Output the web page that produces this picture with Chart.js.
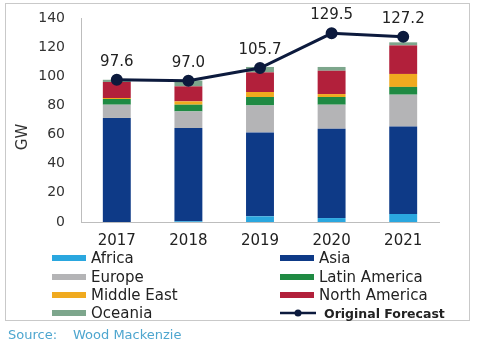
<!DOCTYPE html>
<html>
<head>
<meta charset="utf-8">
<script src="https://cdn.jsdelivr.net/npm/chart.js@4/dist/chart.umd.min.js"></script>
<style>
  html, body { margin: 0; padding: 0; background: #ffffff; }
  #wrap { position: relative; width: 479px; height: 346px; overflow: hidden; font-family: "DejaVu Sans", sans-serif; }
  #frame { position: absolute; left: 5px; top: 3px; width: 465px; height: 318px; border: 1px solid #c9c9c9; box-sizing: border-box; }
  canvas { position: absolute; left: 0; top: 0; }
  #ytitle { position: absolute; left: 22px; top: 137px; transform: translate(-50%, -50%) rotate(-90deg); font-size: 15px; color: #333; white-space: nowrap; }
  .lg { position: absolute; display: flex; align-items: center; white-space: nowrap; font-size: 15px; color: #222; height: 18px; }
  .sw { width: 34px; height: 6px; margin-right: 5px; }
  .lg.bold { font-size: 12.5px; font-weight: bold; color: #222; }
  #source { position: absolute; left: 8px; top: 327px; font-size: 13px; color: #4ea6cf; white-space: nowrap; }
  #source span { position: absolute; left: 65px; }
</style>
</head>
<body>
<div id="wrap">
  <div id="frame"></div>
  <canvas id="c" width="479" height="346"></canvas>
  <div id="ytitle">GW</div>
  <div id="legend"></div>
  <div id="source">Source:<span>Wood Mackenzie</span></div>
</div>
<script>
// ---- data ----
const years = ["2017", "2018", "2019", "2020", "2021"];
const seriesNames = ["Africa", "Asia", "Europe", "Latin America", "Middle East", "North America", "Oceania"];
const africa       = [0.0, 0.5, 3.9, 2.7, 5.5];
const asia         = [71.4, 64.0, 57.6, 61.3, 60.1];
const europe       = [9.1, 11.4, 18.5, 16.5, 21.8];
const latinAmerica = [3.9, 4.6, 5.8, 5.3, 5.3];
const middleEast   = [0.7, 2.3, 3.4, 2.0, 8.9];
const northAmerica = [11.0, 10.3, 13.5, 16.0, 19.6];
const oceania      = [1.5, 4.0, 3.7, 2.6, 2.1];
const lineName = "Original Forecast";
const originalForecast = [97.6, 97.0, 105.7, 129.5, 127.2];
const yTicks = [0, 20, 40, 60, 80, 100, 120, 140];

// ---- style ----
const seriesColors = ["#2aa7df", "#0e3a87", "#b4b4b6", "#1f8a43", "#f0aa1f", "#b2203b", "#7da68c"];
const lineColor = "#0c1a3d";

const seriesValues = [africa, asia, europe, latinAmerica, middleEast, northAmerica, oceania];

const datasets = seriesNames.map((n, i) => ({
  type: 'bar',
  label: n,
  data: seriesValues[i],
  backgroundColor: seriesColors[i],
  borderWidth: 0,
  stack: 'regions',
  order: 1,
  categoryPercentage: 1.0,
  barPercentage: 0.39
}));
datasets.push({
  type: 'line',
  label: lineName,
  data: originalForecast,
  borderColor: lineColor,
  backgroundColor: lineColor,
  borderWidth: 3,
  pointRadius: 4.5,
  pointHoverRadius: 4.5,
  pointBackgroundColor: lineColor,
  pointBorderColor: lineColor,
  stack: 'forecast',
  order: 0,
  tension: 0
});

const labelPlugin = {
  id: 'lineLabels',
  afterDatasetsDraw(chart) {
    const idx = chart.data.datasets.length - 1;
    const meta = chart.getDatasetMeta(idx);
    const ctx = chart.ctx;
    ctx.save();
    ctx.font = '15px "DejaVu Sans", sans-serif';
    ctx.fillStyle = '#222';
    ctx.textAlign = 'center';
    ctx.textBaseline = 'middle';
    meta.data.forEach((pt, i) => {
      ctx.fillText(originalForecast[i].toFixed(1), pt.x, pt.y - 18);
    });
    ctx.restore();
  }
};

new Chart(document.getElementById('c'), {
  data: { labels: years, datasets },
  options: {
    responsive: false,
    animation: false,
    devicePixelRatio: 1,
    layout: { padding: { top: 18, right: 40, left: 0, bottom: 0 } },
    plugins: { legend: { display: false }, tooltip: { enabled: false } },
    scales: {
      x: {
        stacked: true,
        offset: true,
        grid: { display: false, drawTicks: false },
        border: { display: true, color: '#bdbdbd', width: 1 },
        ticks: { color: '#222', font: { family: 'DejaVu Sans', size: 15 }, padding: 10, maxRotation: 0 },
        afterFit(s) { s.height = 124; s.paddingLeft = 0; s.paddingRight = 0; }
      },
      y: {
        stacked: true,
        min: 0, max: 140,
        afterBuildTicks(s) { s.ticks = yTicks.map(v => ({ value: v })); },
        grid: { display: false, drawTicks: false },
        border: { display: true, color: '#bdbdbd', width: 1 },
        ticks: { color: '#333', font: { family: 'DejaVu Sans', size: 14 }, padding: 16 },
        afterFit(s) { s.width = 81; s.paddingTop = 0; s.paddingBottom = 0; }
      }
    }
  },
  plugins: [labelPlugin]
});

// ---- HTML legend built from the series arrays ----
const legend = document.getElementById('legend');
const rowsY = [249, 267.5, 286, 304];
const items = seriesNames.map((n, i) => ({ name: n, color: seriesColors[i] }));
items.push({ name: lineName, line: true });
items.forEach((it, k) => {
  const col = k % 2, row = Math.floor(k / 2);
  const d = document.createElement('div');
  d.className = 'lg' + (it.line ? ' bold' : '');
  d.style.left = (col === 0 ? 52 : 280) + 'px';
  d.style.top = rowsY[row] + 'px';
  if (it.line) {
    const c = document.createElement('canvas');
    c.width = 36; c.height = 10;
    c.style.position = 'static';
    c.style.marginRight = '8px';
    const g = c.getContext('2d');
    g.strokeStyle = lineColor; g.lineWidth = 2.5;
    g.beginPath(); g.moveTo(0, 5); g.lineTo(36, 5); g.stroke();
    g.fillStyle = lineColor; g.beginPath(); g.arc(18, 5, 3.5, 0, Math.PI * 2); g.fill();
    d.appendChild(c);
  } else {
    const s = document.createElement('div');
    s.className = 'sw';
    s.style.background = it.color;
    d.appendChild(s);
  }
  const t = document.createElement('span');
  t.textContent = it.name;
  d.appendChild(t);
  legend.appendChild(d);
});
</script>
</body>
</html>
